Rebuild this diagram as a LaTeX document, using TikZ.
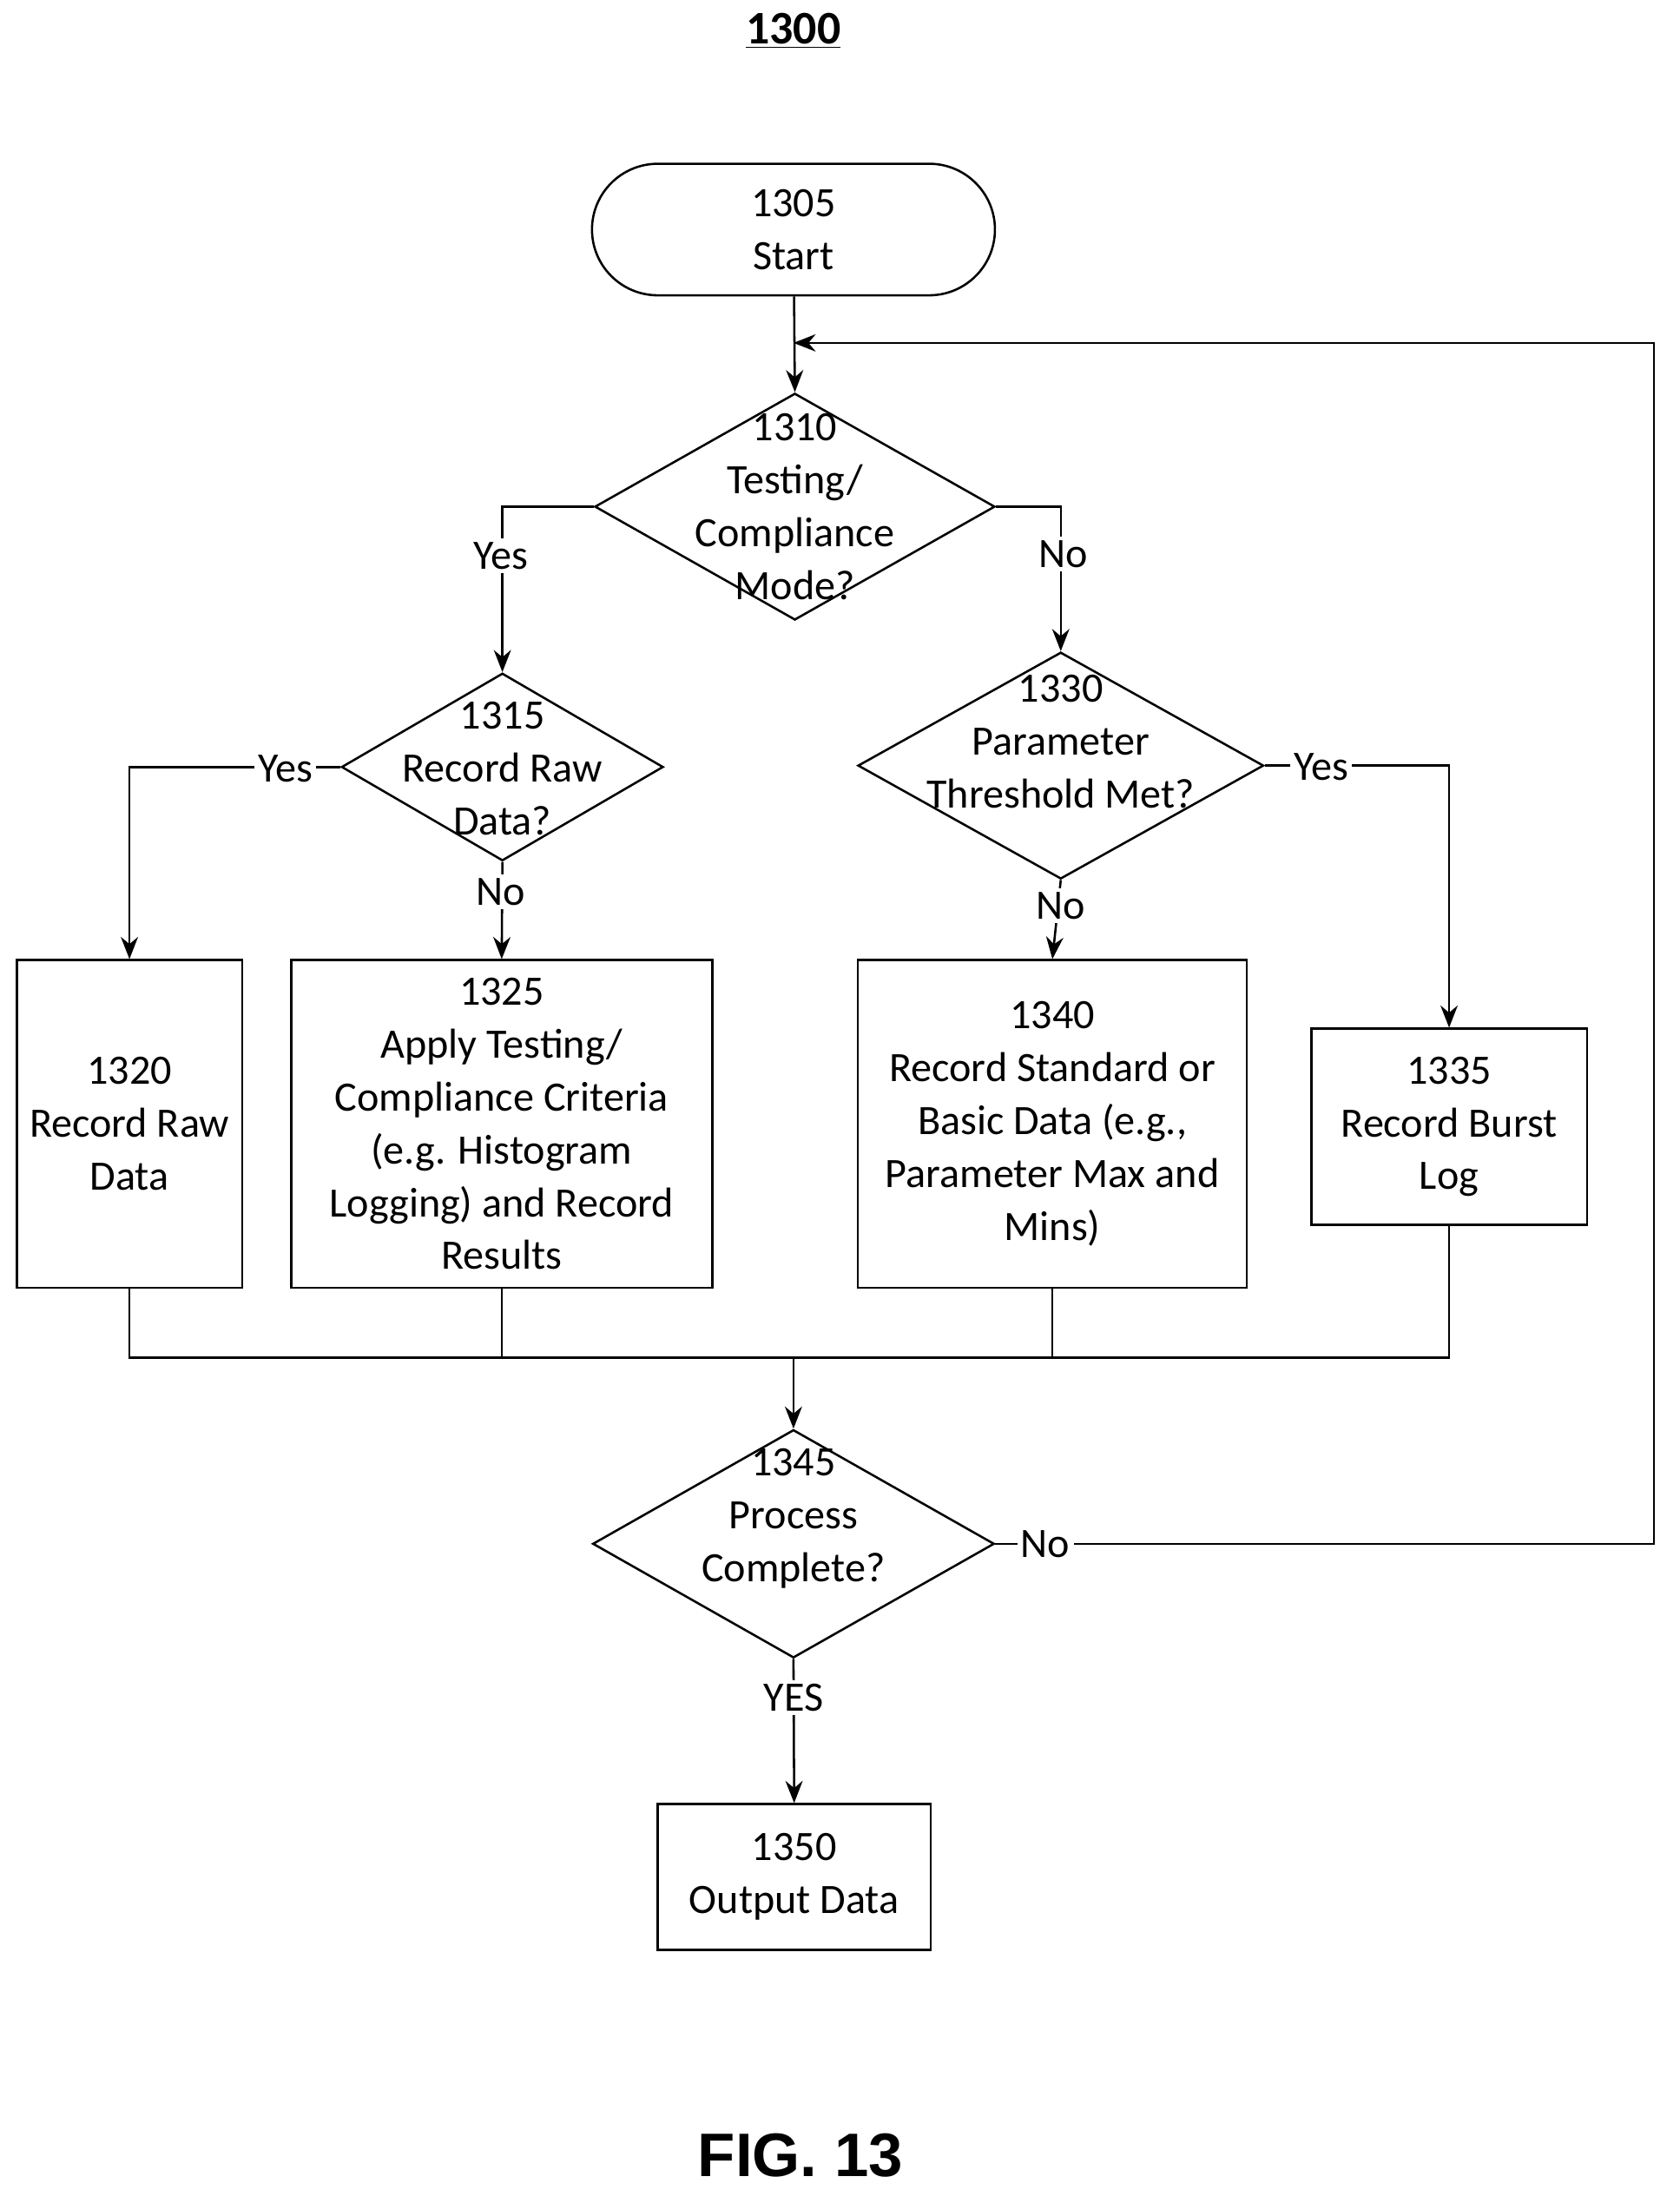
\documentclass[tikz,border=0pt]{standalone}
\usepackage{fontspec}
\setmainfont{Carlito}
\newfontfamily\figfont{Liberation Sans}
\usetikzlibrary{shapes.geometric,arrows.meta,positioning}
\tikzstyle{txt}=[font=\fontsize{17}{21.5}\selectfont, align=center, inner sep=0]
\tikzstyle{box}=[draw, line width=0.9pt, txt]
\tikzstyle{dia}=[draw, diamond, line width=0.9pt, inner sep=0]
\tikzstyle{lbl}=[txt, fill=white, inner sep=1.5pt]
\tikzstyle{ln}=[line width=0.9pt]
\tikzstyle{arr}=[ln, -{Stealth[length=9pt,width=7pt]}]

\begin{document}
\begin{tikzpicture}[x=0.02cm, y=-0.02cm]
    \useasboundingbox (0,0) rectangle (1200,1574);
    \node[txt, font=\fontsize{19}{22}\selectfont\bfseries] (title) at (567,22) {\underline{1300}};
    % start
    \node[box, rounded corners=0.94cm, minimum width=5.76cm, minimum height=1.88cm] (start) at (567,164) {1305\\Start};
    % decisions
    \node[dia, minimum width=5.72cm, minimum height=3.24cm] (d1310) at (568,362) {};
    \node[txt] (t1310) at (568,362) {1310\\Testing/\\Compliance\\Mode?};
    \node[dia, minimum width=4.6cm, minimum height=2.68cm] (d1315) at (359,548) {};
    \node[txt] (t1315) at (359,549) {1315\\Record Raw\\Data?};
    \node[dia, minimum width=5.8cm, minimum height=3.24cm] (d1330) at (758,547) {};
    \node[txt] (t1330) at (758,530) {1330\\Parameter\\Threshold Met?};
    \node[dia, minimum width=5.74cm, minimum height=3.26cm] (d1345) at (567,1103) {};
    \node[txt] (t1345) at (567,1085) {1345\\Process\\Complete?};
    % boxes
    \node[box, minimum width=3.22cm, minimum height=4.68cm] (r1320) at (92.5,803) {1320\\Record Raw\\Data};
    \node[box, minimum width=6.02cm, minimum height=4.68cm] (r1325) at (358.5,803) {1325\\Apply Testing/\\Compliance Criteria\\(e.g. Histogram\\Logging) and Record\\Results};
    \node[box, minimum width=5.56cm, minimum height=4.68cm] (r1340) at (752,803) {1340\\Record Standard or\\Basic Data (e.g.,\\Parameter Max and\\Mins)};
    \node[box, minimum width=3.94cm, minimum height=2.8cm] (r1335) at (1035.5,805) {1335\\Record Burst\\Log};
    \node[box, minimum width=3.9cm, minimum height=2.08cm] (r1350) at (567.5,1341) {1350\\Output Data};
    % connectors
    \coordinate (join) at (567,245);
    \coordinate (loop) at (1182,245);
    \coordinate (merge) at (567,970);
    \draw[arr] (start) -- (d1310.north);
    \draw[arr] (d1310.west) -| (d1315.north);
    \draw[arr] (d1310.east) -| (d1330.north);
    \draw[arr] (d1315.west) -| (r1320.north);
    \draw[arr] (d1315.south) -- (r1325.north);
    \draw[arr] (d1330.east) -| (r1335.north);
    \draw[arr] (d1330.south) -- (r1340.north);
    \draw[ln] (r1320.south) |- (merge);
    \draw[ln] (r1325.south) |- (merge);
    \draw[ln] (r1340.south) |- (merge);
    \draw[ln] (r1335.south) |- (merge);
    \draw[arr] (merge) -- (d1345.north);
    \draw[arr] (d1345.east) -| (loop) -- (join);
    \draw[arr] (d1345.south) -- (r1350.north);
    % labels
    \node[lbl] (l1) at (358,397) {Yes};
    \node[lbl] (l2) at (760,396) {No};
    \node[lbl] (l3) at (204,549) {Yes};
    \node[lbl] (l4) at (358,637) {No};
    \node[lbl] (l5) at (944,548) {Yes};
    \node[lbl] (l6) at (758,647) {No};
    \node[lbl] (l7) at (747,1103) {No};
    \node[lbl] (l8) at (567,1213) {YES};
    \node[txt, font=\fontsize{25}{30}\selectfont\figfont\bfseries] (fig) at (572,1540) {FIG. 13};
\end{tikzpicture}
\end{document}
